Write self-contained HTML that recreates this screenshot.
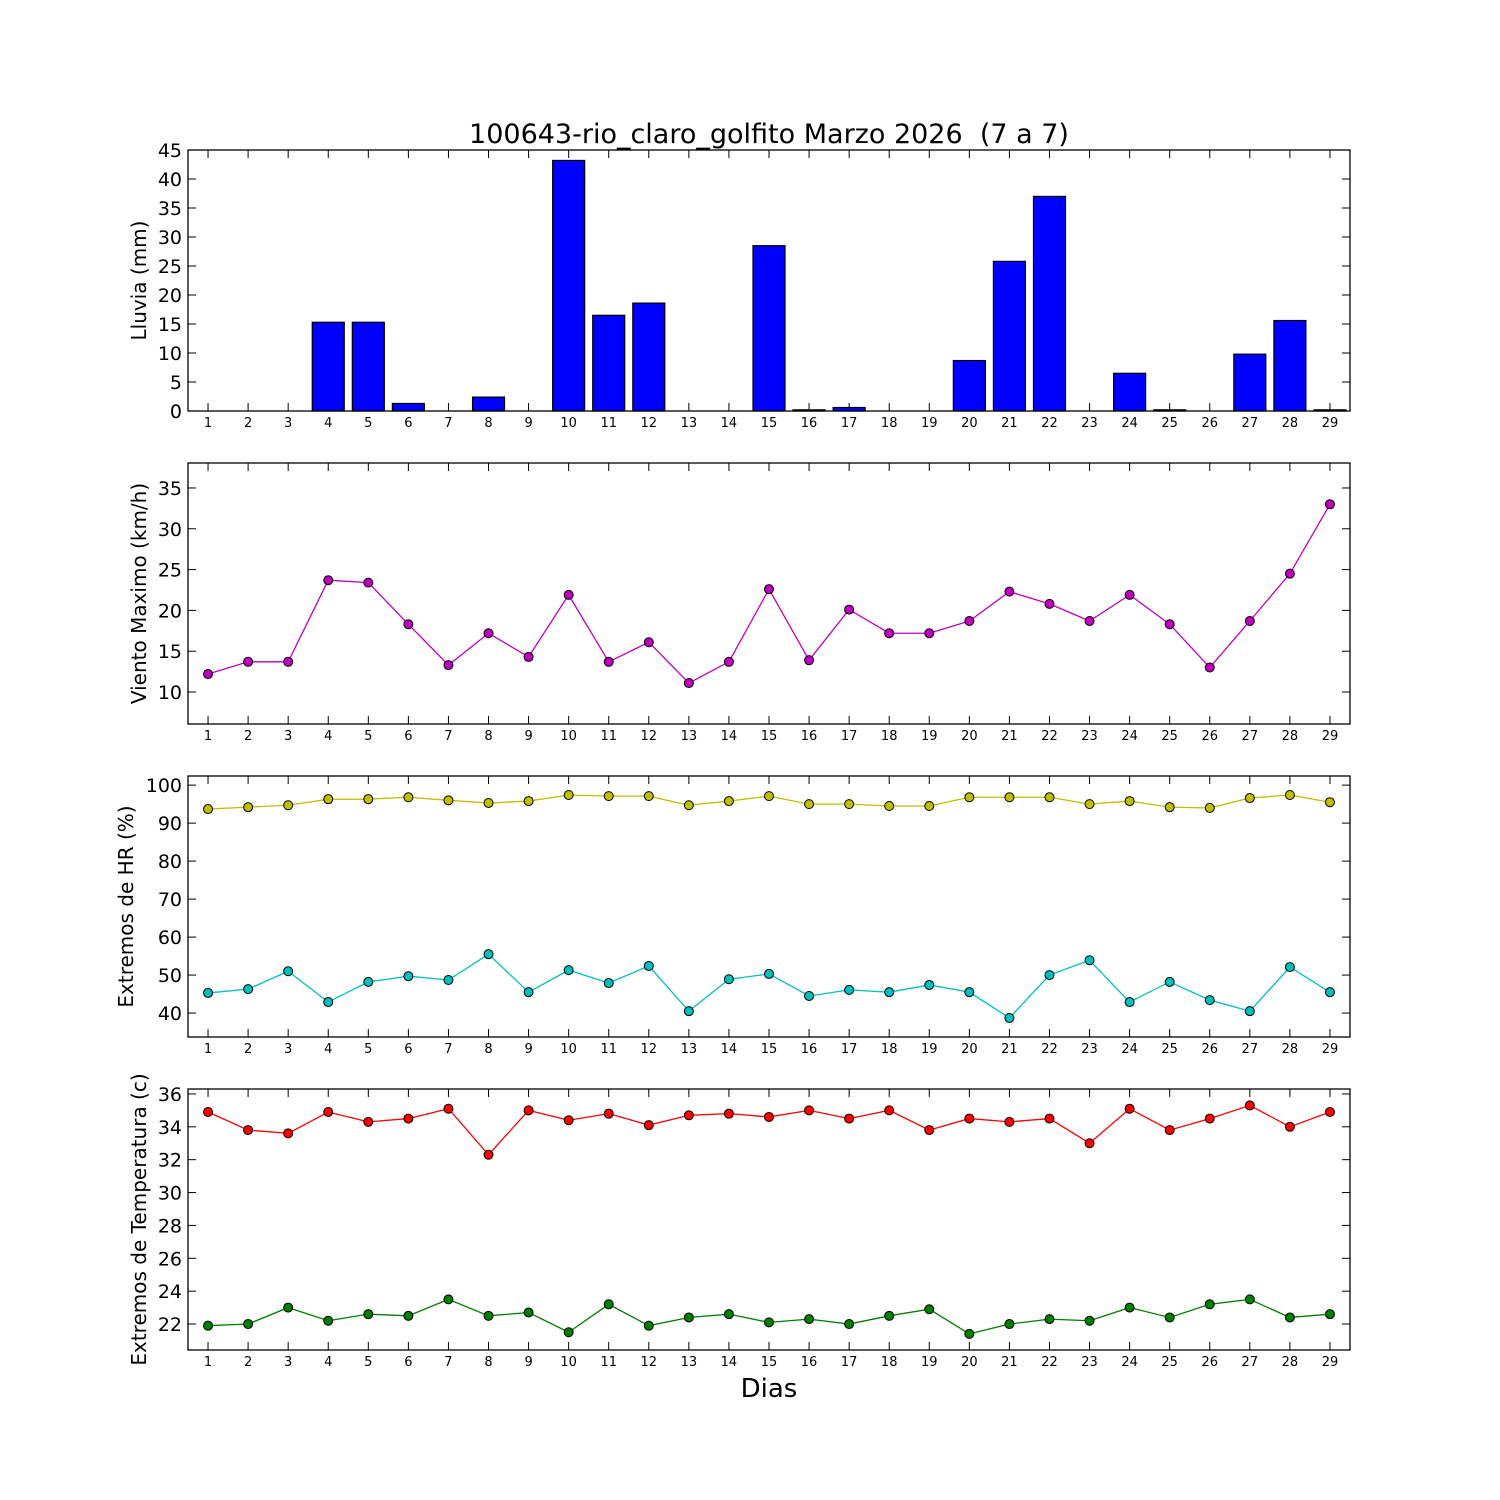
<!DOCTYPE html>
<html><head><meta charset="utf-8"><style>
html,body{margin:0;padding:0;background:#fff;}
svg{display:block;font-family:"DejaVu Sans","Liberation Sans",sans-serif;}
</style></head><body>
<svg id="chart" width="1500" height="1500" viewBox="0 0 1500 1500" xmlns="http://www.w3.org/2000/svg">
<rect width="1500" height="1500" fill="#fff"/>
<text x="769" y="143" font-size="27" text-anchor="middle">100643-rio_claro_golfito Marzo 2026 &#160;(7 a 7)</text>
<text x="769" y="1397" font-size="26" text-anchor="middle">Dias</text>
</svg>
<script>
const days = Array.from({length:29},(_,i)=>i+1);
const rain = [0,0,0,15.3,15.3,1.3,0,2.4,0,43.2,16.5,18.6,0,0,28.5,0.2,0.6,0,0,8.7,25.8,37,0,6.5,0.2,0,9.8,15.6,0.2];
const wind = [12.2,13.7,13.7,23.7,23.4,18.3,13.3,17.2,14.3,21.9,13.7,16.1,11.1,13.7,22.6,13.9,20.1,17.2,17.2,18.7,22.3,20.8,18.7,21.9,18.3,13.0,18.7,24.5,33.0];
const hrMax = [93.7,94.2,94.7,96.3,96.3,96.8,96,95.3,95.8,97.4,97.1,97.1,94.7,95.8,97.1,95,95,94.5,94.5,96.8,96.8,96.8,95,95.8,94.2,94,96.6,97.4,95.5];
const hrMin = [45.3,46.3,51,42.9,48.2,49.7,48.7,55.5,45.5,51.3,47.9,52.4,40.5,48.9,50.3,44.5,46.1,45.5,47.4,45.5,38.7,50,53.9,42.9,48.2,43.4,40.5,52.1,45.5];
const tMax = [34.9,33.8,33.6,34.9,34.3,34.5,35.1,32.3,35,34.4,34.8,34.1,34.7,34.8,34.6,35,34.5,35,33.8,34.5,34.3,34.5,33,35.1,33.8,34.5,35.3,34,34.9];
const tMin = [21.9,22,23,22.2,22.6,22.5,23.5,22.5,22.7,21.5,23.2,21.9,22.4,22.6,22.1,22.3,22,22.5,22.9,21.4,22,22.3,22.2,23,22.4,23.2,23.5,22.4,22.6];
const rainTicks=[0,5,10,15,20,25,30,35,40,45];
const windTicks=[10,15,20,25,30,35];
const hrTicks=[40,50,60,70,80,90,100];
const tTicks=[22,24,26,28,30,32,34,36];

const NS="http://www.w3.org/2000/svg";
const svg=document.getElementById('chart');
function el(tag,attrs,parent){const e=document.createElementNS(NS,tag);for(const k in attrs)e.setAttribute(k,attrs[k]);(parent||svg).appendChild(e);return e;}
const L=188,R=1350;
const xs=d=>L+(d-0.5)*(R-L)/29;

function panel(name,top,bot,ymin,ymax,ticks,label,labelX){
  const g=el('g',{});
  
  
  const ys=v=>bot-(v-ymin)/(ymax-ymin)*(bot-top);
  ticks.forEach(t=>{
    const y=ys(t);
    el('line',{x1:L,x2:L+8,y1:y,y2:y,stroke:'#000','stroke-width':1},g);
    el('line',{x1:R,x2:R-8,y1:y,y2:y,stroke:'#000','stroke-width':1},g);
    const tx=el('text',{x:L-6,y:y+7,'font-size':19,'text-anchor':'end'},g);
    tx.textContent=t;
    
    
  });
  days.forEach(d=>{
    const x=xs(d);
    el('line',{x1:x,x2:x,y1:bot,y2:bot-8,stroke:'#000','stroke-width':1},g);
    el('line',{x1:x,x2:x,y1:top,y2:top+8,stroke:'#000','stroke-width':1},g);
    const tx=el('text',{x:x,y:bot+16,'font-size':13,'text-anchor':'middle'},g);
    tx.textContent=d;
    
    
  });
  const cy=(top+bot)/2;
  const yl=el('text',{x:labelX,y:cy,'font-size':20,'text-anchor':'middle',transform:`rotate(-90 ${labelX} ${cy})`},g);
  yl.textContent=label;
  
  
  return {g,ys,top,bot};
}
function frame(p,name){
  const r=el('rect',{x:L,y:p.top,width:R-L,height:p.bot-p.top,fill:'none',stroke:'#000','stroke-width':1.3},p.g);
  
  
}
function series(p,vals,color,name){
  const pts=vals.map((v,i)=>xs(days[i])+','+p.ys(v)).join(' ');
  const pl=el('polyline',{points:pts,fill:'none',stroke:color,'stroke-width':1.3},p.g);
  
  
  vals.forEach((v,i)=>{
    const c=el('circle',{cx:xs(days[i]),cy:p.ys(v),r:4.5,fill:color,stroke:'#000','stroke-width':1},p.g);
    
    
  });
}

const p1=panel('rain',150,411,0,45,rainTicks,'Lluvia (mm)',146);
rain.forEach((v,i)=>{
  const x=xs(days[i]);
  const y=p1.ys(v);
  const b=el('rect',{x:x-16,y:y,width:32,height:p1.bot-y,fill:'#0000ff',stroke:'#000','stroke-width':1.2},p1.g);
  
  
});
frame(p1,'rain');

const p2=panel('wind',463,724,6.08,38.06,windTicks,'Viento Maximo (km/h)',146);
series(p2,wind,'#bf00bf','wind');
frame(p2,'wind');

const p3=panel('hr',776,1037,33.7,102.4,hrTicks,'Extremos de HR (%)',133);
series(p3,hrMax,'#bfbf00','hr-max');
series(p3,hrMin,'#00bfbf','hr-min');
frame(p3,'hr');

const p4=panel('temp',1089,1350,20.42,36.3,tTicks,'Extremos de Temperatura (c)',146);
series(p4,tMax,'#ff0000','temp-max');
series(p4,tMin,'#007f00','temp-min');
frame(p4,'temp');
</script>
</body></html>
